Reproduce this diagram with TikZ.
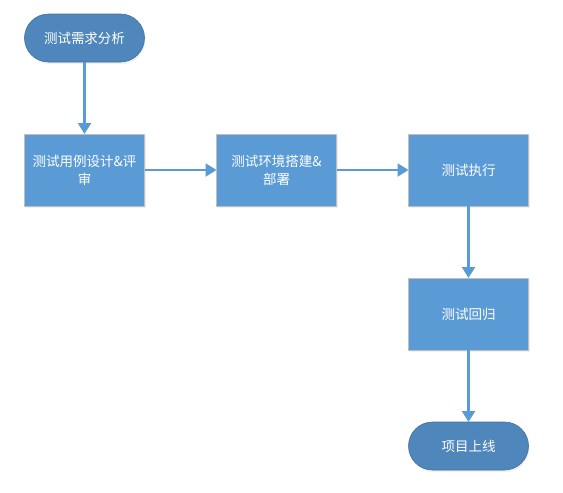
\documentclass[tikz,border=0pt]{standalone}
\usepackage{fontspec}
\setmainfont{Noto Sans CJK SC}
\usepackage{xcolor}
\usetikzlibrary{positioning, arrows.meta, shadows}

\definecolor{boxblue}{HTML}{5B9BD5}
\definecolor{termblue}{HTML}{4F86BC}
\definecolor{termline}{HTML}{41719C}
\definecolor{boxline}{HTML}{BFBFBF}

\tikzset{
  stepbox/.style={draw=boxline, line width=0.8pt, fill=boxblue, text=white,
    minimum width=120pt, minimum height=72pt, align=center, outer sep=0pt,
    font=\fontsize{13.5}{18}\selectfont,
    drop shadow={opacity=0.12, shadow xshift=1pt, shadow yshift=-2pt}},
  terminal/.style={draw=termline, line width=0.6pt, fill=termblue, text=white,
    minimum width=120pt, minimum height=48pt, rounded corners=24pt, outer sep=0pt,
    font=\fontsize{13.5}{18}\selectfont,
    drop shadow={opacity=0.12, shadow xshift=1pt, shadow yshift=-2pt}},
  flow/.style={draw=boxblue, line width=2.2pt,
    -{Triangle[width=13pt,length=11pt]}}
}

\begin{document}
\begin{tikzpicture}[x=1pt, y=1pt, node distance=72pt]
    \useasboundingbox (0,0) rectangle (563,-493);

        \node[terminal] (req) at (84.5,-38) {测试需求分析};
        \node[stepbox] (design) [below=of req] {测试用例设计\&评\\审};
        \node[stepbox] (env) [right=of design] {测试环境搭建\&\\部署};
        \node[stepbox] (exec) [right=of env] {测试执行};
        \node[stepbox] (regress) [below=of exec] {测试回归};
        \node[terminal] (release) [below=of regress] {项目上线};

        \path
        (req) edge[flow] (design)
        (design) edge[flow] (env)
        (env) edge[flow] (exec)
        (exec) edge[flow] (regress)
        (regress) edge[flow] (release);
    \end{tikzpicture}
\end{document}
